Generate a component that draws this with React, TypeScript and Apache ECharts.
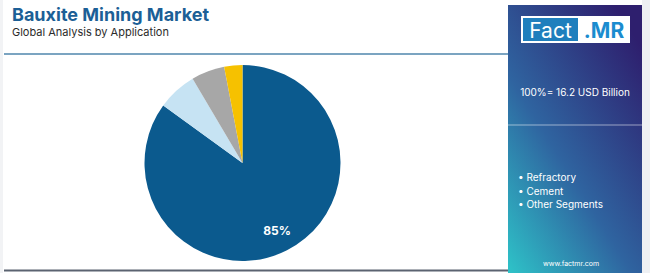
import React, { useEffect, useRef } from "react";
import * as echarts from "echarts";

const title = "Bauxite Mining Market";
const subtitle = "Global Analysis by Application";
const totalLabel = "100%= 16.2 USD Billion";
const categories = ["Metallurgical", "Refractory", "Cement", "Other Segments"];
const values = [85, 6.5, 5.5, 3];
const colors = ["#0b5a8e", "#c6e3f3", "#a7a7a7", "#f6c100"];
const legendItems = ["Refractory", "Cement", "Other Segments"];
const website = "www.factmr.com";

export default function App() {
  const ref = useRef<HTMLDivElement>(null);
  useEffect(() => {
    if (!ref.current) return;
    const chart = echarts.init(ref.current, undefined, { renderer: "svg" });
    const data = categories.map((name, i) => ({ name, value: values[i] }));
    const font = "Inter, 'Open Sans', sans-serif";
    chart.setOption({
      animation: false,
      backgroundColor: "#ffffff",
      color: colors,
      graphic: [
        { type: "rect", shape: { x: 642, y: 0, width: 8, height: 273 }, style: { fill: "#eef0f3" }, silent: true },
        { type: "rect", shape: { x: 0, y: 0, width: 3, height: 273 }, style: { fill: "#f2f3f5" }, silent: true },
        { type: "line", shape: { x1: 4, y1: 54, x2: 508, y2: 54 }, style: { stroke: "#4f86ad", lineWidth: 1.5 }, silent: true },
        { type: "line", shape: { x1: 4, y1: 270.5, x2: 508, y2: 270.5 }, style: { stroke: "#5b6371", lineWidth: 2 }, silent: true },
        {
          type: "rect",
          shape: { x: 508, y: 5, width: 134, height: 268 },
          style: {
            fill: new echarts.graphic.LinearGradient(0, 1, 0.8, 0, [
              { offset: 0, color: "#2ec3c8" },
              { offset: 0.45, color: "#2f64a0" },
              { offset: 1, color: "#2e1f6e" },
            ]),
          },
          silent: true,
        },
        { type: "line", shape: { x1: 508, y1: 125, x2: 642, y2: 125 }, style: { stroke: "rgba(255,255,255,0.35)", lineWidth: 1.5 }, silent: true },
        { type: "rect", shape: { x: 521, y: 16, width: 109, height: 27 }, style: { fill: "#ffffff" }, silent: true },
        { type: "rect", shape: { x: 523, y: 18, width: 55, height: 23 }, style: { fill: "#1f7fbd" }, silent: true },
        {
          type: "text", x: 550.5, y: 30,
          style: { text: "Fact", fill: "#ffffff", font: `400 21px ${font}`, align: "center", verticalAlign: "middle" },
          silent: true,
        },
        {
          type: "text", x: 604, y: 30,
          style: { text: ".MR", fill: "#1b8ccf", font: `700 21px ${font}`, align: "center", verticalAlign: "middle" },
          silent: true,
        },
        {
          type: "text", x: 12, y: 14,
          style: { text: title, fill: "#1c5f96", font: `700 18px ${font}`, verticalAlign: "middle" },
          silent: true,
        },
        {
          type: "text", x: 12, y: 31.5,
          style: { text: subtitle, fill: "#2b2b2b", font: `400 11px ${font}`, verticalAlign: "middle" },
          silent: true,
        },
        {
          type: "text", x: 575, y: 92,
          style: { text: totalLabel, fill: "#ffffff", font: `400 10px ${font}`, align: "center", verticalAlign: "middle" },
          silent: true,
        },
        {
          type: "text", x: 571, y: 263,
          style: { text: website, fill: "#ffffff", font: `400 7px ${font}`, align: "center", verticalAlign: "middle" },
          silent: true,
        },
      ],
      legend: {
        data: legendItems,
        orient: "vertical",
        left: 508,
        top: 167,
        icon: "none",
        itemWidth: 0,
        itemHeight: 10,
        itemGap: 3.5,
        selectedMode: false,
        formatter: (n: string) => "• " + n,
        textStyle: { color: "#ffffff", fontSize: 10, fontFamily: font },
      },
      series: [
        {
          type: "pie",
          center: [242.5, 163],
          radius: [0, 98],
          startAngle: 90,
          clockwise: true,
          data,
          label: { show: false },
          labelLine: { show: false },
          silent: true,
          itemStyle: { borderWidth: 0 },
        },
        {
          type: "pie",
          center: [242.5, 163],
          radius: [48, 98],
          startAngle: 90,
          clockwise: true,
          data,
          silent: true,
          legendHoverLink: false,
          itemStyle: { color: "rgba(0,0,0,0)", borderWidth: 0 },
          labelLine: { show: false },
          label: {
            show: true,
            position: "inside",
            formatter: (p: any) => (p.value >= 10 ? p.value + "%" : ""),
            color: "#ffffff",
            fontWeight: "bold",
            fontSize: 12,
            fontFamily: font,
          },
        },
      ],
    });
    return () => chart.dispose();
  }, []);
  return (
    <div
      ref={ref}
      style={{ position: "fixed", left: 0, top: 0, width: 650, height: 273 }}
    />
  );
}
